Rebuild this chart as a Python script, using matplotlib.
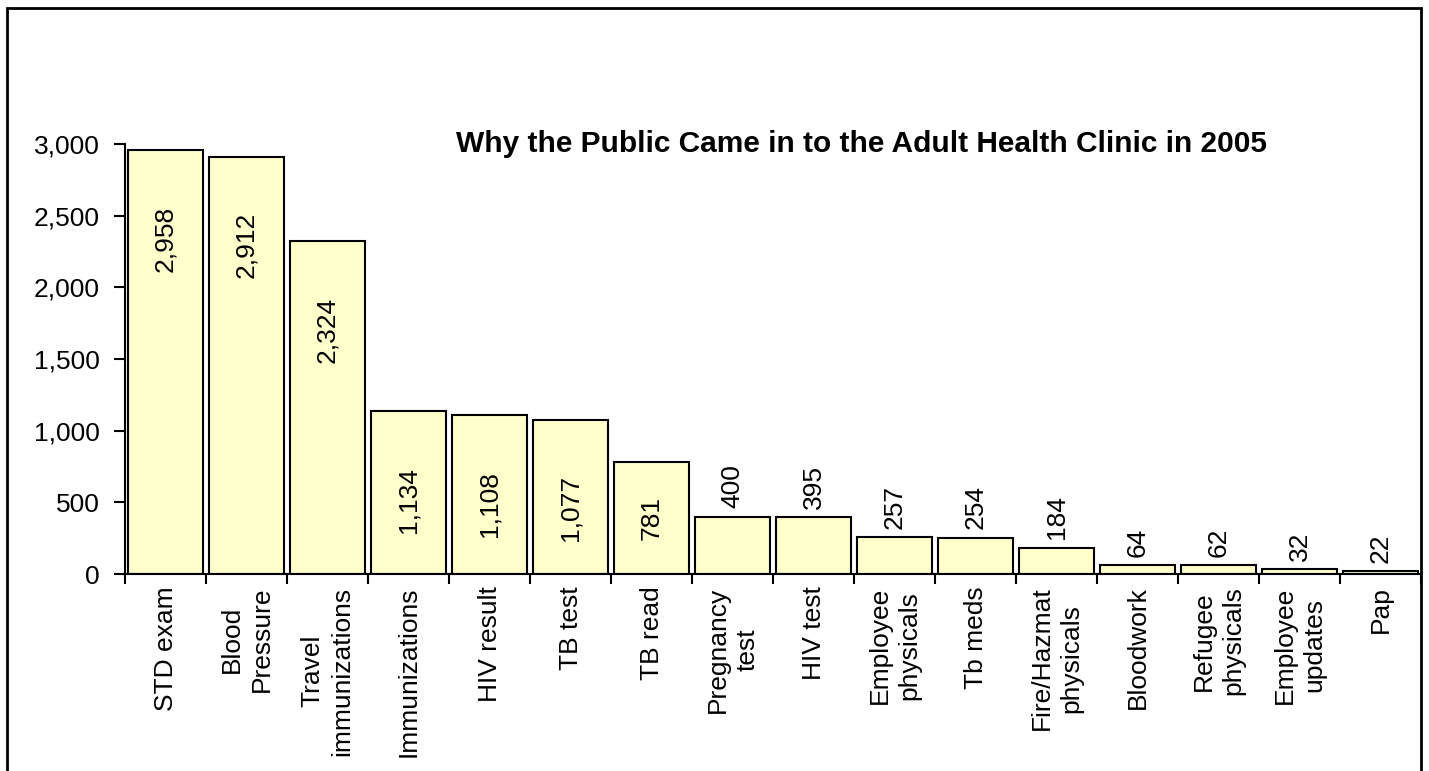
import matplotlib.pyplot as plt
from matplotlib.patches import Rectangle
from matplotlib.ticker import FuncFormatter

plt.rcParams['font.family'] = ['Liberation Sans', 'DejaVu Sans']

reasons = ["STD exam", "Blood\nPressure", "Travel\nimmunizations", "Immunizations",
           "HIV result", "TB test", "TB read", "Pregnancy\ntest", "HIV test",
           "Employee\nphysicals", "Tb meds", "Fire/Hazmat\nphysicals", "Bloodwork",
           "Refugee\nphysicals", "Employee\nupdates", "Pap"]
visits = [2958, 2912, 2324, 1134, 1108, 1077, 781, 400, 395, 257, 254, 184, 64, 62, 32, 22]

FS = 19

fig = plt.figure(figsize=(14.29, 7.71), dpi=100)
ax = fig.add_axes([0.0875, 0.2555, 0.9069, 0.5577])

x = range(len(visits))
bars = ax.bar(x, visits, width=0.92, color="#FFFFCC", edgecolor="black", linewidth=1.5)

# value labels: inside the tall bars, above the short ones
for b, v in zip(bars, visits):
    cx = b.get_x() + b.get_width() / 2
    txt = "{:,}".format(v)
    if v > 500:
        if v > 1000:
            ax.annotate(txt, (cx, v), xytext=(0, -40), textcoords="offset points",
                        rotation=90, ha="center", va="top", fontsize=FS)
        else:
            ax.text(cx, v / 2, txt, rotation=90, ha="center", va="center", fontsize=FS)
    else:
        ax.annotate(txt, (cx, v), xytext=(0, 6), textcoords="offset points",
                    rotation=90, ha="center", va="bottom", fontsize=FS)

ax.set_xlim(-0.5, len(visits) - 0.5)
ax.set_ylim(0, 3000)
ax.set_yticks(range(0, 3001, 500))
ax.yaxis.set_major_formatter(FuncFormatter(lambda v, p: "{:,.0f}".format(v)))
ax.tick_params(axis="y", direction="out", length=8, width=1.5, labelsize=FS, pad=10)

ax.set_xticks(list(x))
ax.set_xticklabels(reasons, rotation=90, ha="center", va="top",
                   multialignment="center", linespacing=1.3)
ax.set_xticks([i - 0.5 for i in range(len(visits) + 1)], minor=True)
ax.tick_params(axis="x", which="major", length=0, labelsize=FS, pad=9)
ax.tick_params(axis="x", which="minor", direction="out", length=7, width=1.5)

ax.spines["top"].set_visible(False)
ax.spines["right"].set_visible(False)
ax.spines["left"].set_linewidth(1.5)
ax.spines["bottom"].set_linewidth(1.5)

fig.text(0.603, 0.813, "Why the Public Came in to the Adult Health Clinic in 2005",
         ha="center", va="center", fontsize=21.5, fontweight="bold")

# chart border
fig.patches.append(Rectangle((0.005, -0.05), 0.9895, 1.04, transform=fig.transFigure,
                             fill=False, edgecolor="black", linewidth=2))

fig.savefig("out.png", dpi=100)
